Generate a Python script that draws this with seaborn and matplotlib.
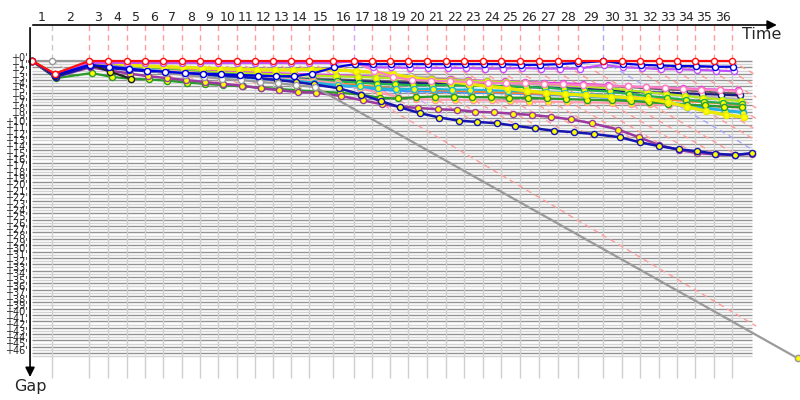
import matplotlib
matplotlib.use("Agg")
import matplotlib.pyplot as plt
import numpy as np
import seaborn as sns

# leader's crossing time (s) at the end of each lap, index = lap (0 = start)
lap_times = [0, 14.3, 40.7, 54.3, 67.9, 80.7, 93.6, 107.1, 120.0, 132.9,
             146.4, 159.3, 172.1, 185.0, 197.9, 215.0, 230.0, 242.9, 255.7, 268.6,
             282.1, 295.7, 308.6, 322.1, 335.0, 348.6, 362.1, 375.7, 390.0, 407.9,
             421.4, 434.3, 447.9, 460.7, 473.6, 487.1, 500.0]
lap_labels = [str(i) for i in range(1, 37)]
gap_labels = ["+%d'" % i for i in range(47)]

# gap to leader per lap (lap 0..36), None = not running
gaps_red = [0, 2.0, 0, 0, 0, 0, 0, 0, 0, 0,
            0, 0, 0, 0, 0, 0, 0, 0, 0, 0,
            0, 0, 0, 0, 0, 0, 0, 0, 0, 0,
            0, 0, 0, 0, 0, 0, 0]
gaps_gray = [0, 0, 0, 0.6, 1.1, 1.5, 1.9, 2.2, 2.5, 2.8,
             3.0, 3.3, 3.5, 3.8, 4.1, None, None, None, None, None,
             None, None, None, None, None, None, None, None, None, None,
             None, None, None, None, None, None, 46.8]
gaps_blue = [0, 2.2, 0.6, 0.9, 1.2, 1.5, 1.7, 1.9, 2.0, 2.1,
             2.2, 2.3, 2.4, 2.4, 2.0, 1.0, 0.5, 0.5, 0.5, 0.5,
             0.5, 0.5, 0.5, 0.5, 0.5, 0.6, 0.6, 0.5, 0.3, 0,
             0.4, 0.6, 0.7, 0.8, 0.8, 0.9, 0.9]
gaps_violet = [0, 2.1, 0.3, 0.3, 0.3, 0.3, 0.3, 0.3, 0.3, 0.3,
               0.3, 0.3, 0.3, 0.3, 0.3, 0.3, 0, 1.0, 1.0, 1.1,
               1.1, 1.1, 1.1, 1.2, 1.2, 1.1, 1.2, 1.2, 1.2, 0.6,
               1.0, 1.1, 1.3, 1.3, 1.4, 1.5, 1.6]
gaps_pink = [0, 2.0, 0.15, 0.15, 0.15, 0.15, 0.15, 0.15, 0.15, 0.15,
             0.15, 0.15, 0.15, 0.15, 0.15, 0.15, 0.15, 1.5, 2.5, 3.0,
             3.1, 3.2, 3.3, 3.4, 3.5, 3.5, 3.6, 3.7, 3.8, 3.9,
             4.0, 4.1, 4.2, 4.4, 4.5, 4.6, 4.7]
gaps_navy = [0, 2.4, 0.4, 0.8, 1.1, 1.4, 1.6, 1.8, 2.0, 2.2,
             2.4, 2.5, 2.7, 2.8, 3.0, 3.1, 3.2, 3.3, 3.4, 3.5,
             3.6, 3.7, 3.8, 3.9, 4.0, 4.1, 4.2, 4.3, 4.4, 4.6,
             4.8, 4.9, 5.0, 5.1, 5.2, 5.3, 5.4]
gaps_silver = [0, 2.2, 0.5, 0.9, 1.2, 1.4, 1.6, 1.7, 1.8, 1.9,
               2.0, 2.0, 2.1, 2.1, 2.2, 2.2, 2.2, 2.2, 2.3, 2.4,
               2.6, 2.8, 3.0, 3.2, 3.4, 3.6, 3.8, 4.0, 4.2, 4.4,
               4.7, 5.0, 5.2, 5.4, 5.6, 5.8, 6.0]
gaps_yellow = [0, 2.1, 0.3, 0.4, 0.6, 0.8, 0.9, 1.0, 1.1, 1.2,
               1.3, 1.4, 1.4, 1.4, 1.3, 1.4, 1.6, 1.8, 2.1, 2.6,
               3.0, 3.3, 3.6, 4.0, 4.3, 4.7, 5.0, 5.2, 5.4, 5.6,
               5.8, 6.0, 6.5, 7.2, 7.9, 8.5, 8.8]
gaps_green = [0, 2.7, 1.9, 2.5, 2.8, 2.9, 3.1, 3.4, 3.6, 3.8,
              4.0, 4.2, 4.4, 4.6, 4.8, 5.0, 5.3, 5.8, 5.9, 5.7,
              5.6, 5.6, 5.7, 5.7, 5.8, 5.8, 5.9, 6.0, 6.1, 6.2,
              6.3, 6.5, 6.7, 6.9, 7.0, 7.2, 7.3]
gaps_cyan = [0, 2.4, 0.6, 0.9, 1.1, 1.4, 1.6, 1.9, 2.1, 2.3,
             2.5, 2.7, 2.9, 3.1, 3.4, 3.8, 4.0, 4.3, 4.4, 4.4,
             4.4, 4.5, 4.5, 4.6, 4.7, 4.8, 4.9, 5.0, 5.2, 5.5,
             5.8, 6.1, 6.5, 6.9, 7.3, 7.8, 8.2]
gaps_darkblue = [0, 2.5, 0.8, 1.1, 1.4, 1.6, 1.8, 2.0, 2.1, 2.3,
                 2.5, 2.7, 3.0, 3.3, 3.7, 4.3, 5.3, 6.3, 7.3, 8.2,
                 8.9, 9.4, 9.6, 9.8, 10.2, 10.6, 11.0, 11.2, 11.5, 12.0,
                 12.8, 13.4, 13.9, 14.2, 14.6, 14.8, 14.5]
gaps_purple = [0, 2.5, 1.0, 1.5, 2.0, 2.4, 2.7, 3.0, 3.3, 3.6,
               3.9, 4.3, 4.6, 4.9, 5.0, 5.5, 6.2, 6.8, 7.2, 7.4,
               7.6, 7.7, 8.0, 8.1, 8.3, 8.5, 8.8, 9.2, 9.8, 10.8,
               12.0, 13.2, 14.0, 14.5, 14.7, 14.8, 14.6]
gaps_black = [0, 2.3, 0.5, 1.7, 2.8, None, None, None, None, None,
              None, None, None, None, None, None, None, None, None, None,
              None, None, None, None, None, None, None, None, None, None,
              None, None, None, None, None, None, None]
gaps_salmon = [0, 2.2, 0.4, 0.8, 1.1, 1.3, 1.5, 1.7, 1.9, 2.1,
               2.3, 2.5, 2.7, 2.9, 3.1, 3.5, 4.3, 5.0, 5.6, 6.0,
               6.1, 6.1, 6.2, 6.2, 6.3, 6.4, 6.4, 6.5, 6.5, 6.6,
               6.7, 6.8, 6.9, 7.0, 7.1, 7.2, 7.3]
gaps_green2 = [0, 2.3, 0.5, 0.8, 1.0, 1.2, 1.4, 1.6, 1.8, 2.0,
               2.2, 2.4, 2.6, 2.8, 3.0, 3.2, 3.4, 3.6, 3.7, 3.8,
               3.8, 3.8, 3.9, 3.9, 4.0, 4.1, 4.2, 4.4, 4.6, 4.8,
               5.2, 5.5, 5.8, 6.1, 6.4, 6.6, 6.8]
gaps_lime = [0, 2.1, 0.3, 0.6, 0.9, 1.1, 1.3, 1.5, 1.6, 1.8,
             1.9, 2.0, 2.1, 2.2, 2.3, 2.4, 2.5, 2.6, 2.7, 2.8,
             2.9, 3.0, 3.1, 3.2, 3.3, 3.4, 3.6, 3.8, 4.0, 4.3,
             4.6, 4.9, 5.2, 5.5, 5.8, 6.1, 6.3]
gaps_orange = [0, 2.4, 0.7, 1.0, 1.3, 1.5, 1.7, 1.9, 2.1, 2.3,
               2.5, 2.6, 2.8, 3.0, 3.2, 3.5, 3.8, 4.1, 4.3, 4.5,
               4.6, 4.7, 4.8, 4.9, 5.0, 5.1, 5.2, 5.3, 5.4, 5.5,
               5.7, 5.9, 6.1, 6.3, 6.5, 6.7, 6.9]
gaps_sky = [0, 2.5, 0.7, 1.0, 1.3, 1.5, 1.8, 2.0, 2.2, 2.4,
            2.6, 2.8, 3.0, 3.2, 3.5, 3.9, 4.2, 4.5, 4.7, 4.8,
            4.8, 4.9, 5.0, 5.0, 5.1, 5.2, 5.3, 5.4, 5.6, 5.8,
            6.1, 6.4, 6.8, 7.2, 7.5, 7.8, 8.0]
gaps_magenta = [0, 2.2, 0.3, 0.6, 0.8, 1.0, 1.2, 1.3, 1.5, 1.6,
                1.7, 1.8, 1.9, 2.0, 2.1, 2.2, 2.3, 2.5, 2.6, 2.7,
                2.8, 2.9, 3.0, 3.1, 3.2, 3.3, 3.4, 3.5, 3.6, 3.8,
                4.0, 4.1, 4.2, 4.3, 4.4, 4.5, 4.6]
gaps_darkgray = [0, 2.3, 0.5, 0.9, 1.2, 1.5, 1.7, 1.9, 2.1, 2.2,
                 2.4, 2.5, 2.6, 2.7, 2.8, 2.9, 3.0, 3.1, 3.2, 3.3,
                 3.3, 3.4, 3.4, 3.5, 3.5, 3.6, 3.7, 3.8, 3.9, 4.0,
                 4.1, 4.3, 4.5, 4.6, 4.8, 5.0, 5.1]

# how far down the "lap" diagonal of each lap (1..36) reaches
diag_end_gaps = [2.5, 1.5, 2.2, 2.6, 3.0, 3.3, 3.6, 3.9, 4.2, 4.6,
                 4.9, 5.2, 5.5, 44.0, 7.5, 8.5, 9.5, 10.0, 10.5, 11.0,
                 11.5, 12.0, 12.5, 13.0, 13.5, 14.0, 14.5, 14.8, 15.0, 15.0,
                 15.0, 15.0, 15.0, 15.0, 15.0, 15.0]
lap_leader_color = {1: "#c8c8c8", 16: "#d9a0ff", 29: "#a8a8ff"}

# colour, marker face, line width (drawn bottom to top)
drivers = [
    (gaps_darkgray, "#606060", "white", 1.4),
    (gaps_silver, "#b4b4b4", "white", 1.6),
    (gaps_magenta, "#e040e0", "white", 1.4),
    (gaps_navy, "#1a1a80", "white", 1.6),
    (gaps_sky, "#3399ff", "#ffff00", 1.6),
    (gaps_orange, "#ff7f27", "#ffff00", 1.4),
    (gaps_lime, "#b5e61d", "#ffff00", 1.6),
    (gaps_green2, "#22b14c", "#ffff00", 1.6),
    (gaps_salmon, "#ff99aa", "#ffff00", 1.6),
    (gaps_cyan, "#20b8d8", "#ffff00", 1.6),
    (gaps_green, "#2a9a2a", "#ffff00", 1.6),
    (gaps_purple, "#9a3aa0", "#ffff00", 1.8),
    (gaps_darkblue, "#1515b0", "#ffff00", 1.8),
    (gaps_yellow, "#e8e800", "#ffff00", 2.4),
    (gaps_black, "#222222", "#ffff00", 1.6),
    (gaps_gray, "#9a9a9a", "white", 1.6),
    (gaps_pink, "#ff80c0", "white", 1.6),
    (gaps_violet, "#c050ff", "white", 1.6),
    (gaps_blue, "#0000e0", "white", 1.6),
    (gaps_red, "#ff1010", "white", 1.6),
]

DIAG_SLOPE = 0.1307      # gap per second of the lap diagonals
T_GRID_END = 514.3
GAP_GRID_END = 46.5

sns.set_style("white")
plt.rcParams["font.family"] = ["DejaVu Sans"]

fig = plt.figure(figsize=(8, 4), dpi=100)
ax = fig.add_axes([0, 0, 1, 1])
ax.set_axis_off()

# horizontal grid
for i in range(int(GAP_GRID_END * 2) + 1):
    g = i / 2
    ax.hlines(g, 0, T_GRID_END, color="#929292" if i % 2 == 0 else "#d4d4d4",
              lw=1, zorder=1)

# vertical lap lines and lap diagonals
for k in range(1, 37):
    t = lap_times[k]
    ax.vlines(t, 0, 49.9, color="#cfcfcf", lw=1, zorder=1)
    col = lap_leader_color.get(k, "#ff9c9c")
    ax.plot([t, t], [-5.67, 0], color=col, lw=1, ls=(0, (4, 3)), zorder=2)
    t_end = min(t + diag_end_gaps[k - 1] / DIAG_SLOPE, T_GRID_END + 3)
    ax.plot([t, t_end], [0, (t_end - t) * DIAG_SLOPE], color=col, lw=1,
            ls=(0, (4, 3)), zorder=2)

# drivers
for z, (gaps, color, face, lw) in enumerate(drivers):
    assert len(gaps) == len(lap_times)
    xs, ys = [], []
    for lap, g in enumerate(gaps):
        if g is None:
            continue
        xs.append(lap_times[lap] + g)
        ys.append(g)
    sns.lineplot(x=xs, y=ys, ax=ax, color=color, lw=lw, sort=False,
                 estimator=None, marker="o", markersize=4.4,
                 markerfacecolor=face, markeredgecolor=color,
                 markeredgewidth=1.0, zorder=3 + z * 0.01)

# retired car's last point
ax.plot(lap_times[36] + gaps_gray[36], gaps_gray[36], "o", ms=4.4,
        mfc="#ffff00", mec="#9a9a9a", mew=1, zorder=4)

# axes with arrows
ax.annotate("", xy=(534, -5.67), xytext=(-1.4, -5.67),
            arrowprops=dict(arrowstyle="-|>", color="black", lw=1.2,
                            mutation_scale=14), zorder=5)
ax.annotate("", xy=(-1.4, 50.2), xytext=(-1.4, -5.67),
            arrowprops=dict(arrowstyle="-|>", color="black", lw=1.2,
                            mutation_scale=14), zorder=5)

for k, lab in enumerate(lap_labels, start=1):
    ax.text((lap_times[k - 1] + lap_times[k]) / 2, -6.9, lab, ha="center",
            va="center", fontsize=9)
for g, lab in enumerate(gap_labels):
    ax.text(-2.9, g - 0.4, lab, ha="right", va="center", fontsize=7)

ax.text(521, -4.1, "Time", ha="center", va="center", fontsize=11.5)
ax.text(-1.4, 51.2, "Gap", ha="center", va="center", fontsize=11.5)

ax.set_xlim((0 - 32) / 1.4, (800 - 32) / 1.4)
ax.set_ylim((400 - 61) / 6.35, (0 - 61) / 6.35)

fig.savefig("out.png", dpi=100)
